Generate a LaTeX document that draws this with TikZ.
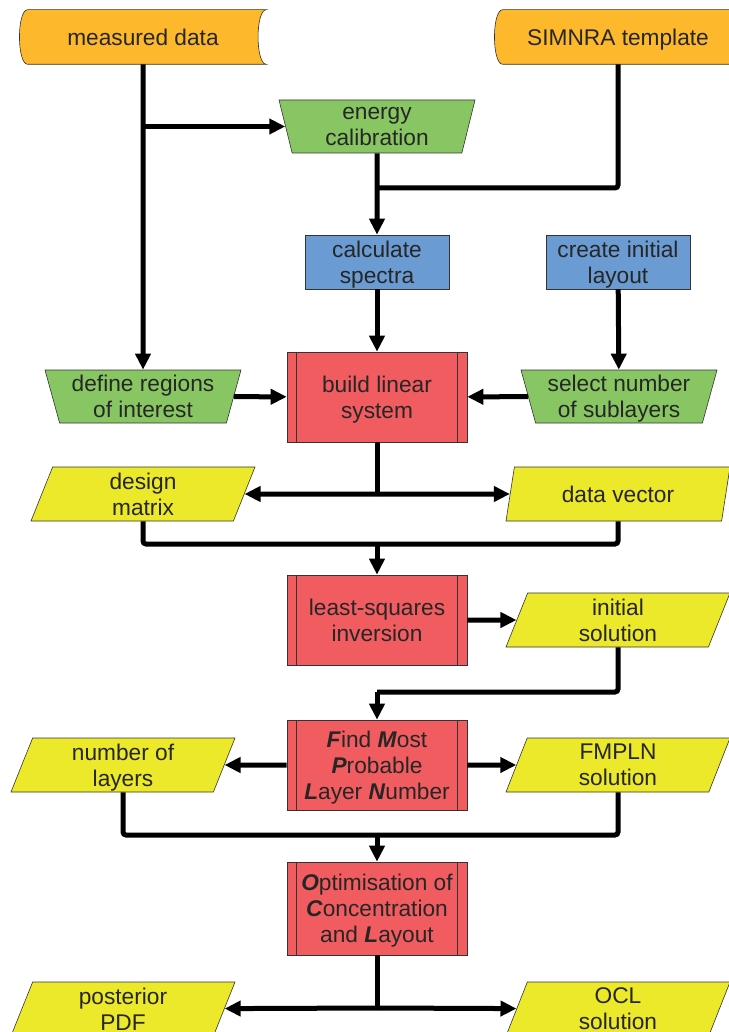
\documentclass[tikz,border=0pt]{standalone}
\usepackage{fontspec}
\setmainfont{Liberation Sans}
\usetikzlibrary{arrows.meta, shapes.geometric, backgrounds}
\definecolor{storeorange}{HTML}{FDB92B}
\definecolor{manualgreen}{HTML}{88C663}
\definecolor{procblue}{HTML}{6A9BD2}
\definecolor{predefred}{HTML}{F05C60}
\definecolor{ioyellow}{HTML}{ECE82A}
\newcommand{\initial}[1]{\textbf{\textit{#1}}}

\tikzset{
  box/.style={draw=black!80, line width=0.6pt, inner sep=0pt, align=center, text=black!85,
    text depth=0pt, font=\fontsize{22.7}{26}\selectfont},
  storebox/.style={box, draw=none, minimum width=246pt, minimum height=54pt},
  storeline/.style={draw=black!80, line width=0.6pt, fill=storeorange},
  manual/.style={box, trapezium, shape border rotate=180, trapezium left angle=71,
    trapezium right angle=71, trapezium stretches body, fill=manualgreen,
    minimum width=196pt, minimum height=53pt},
  procbox/.style={box, fill=procblue, minimum width=144pt, minimum height=54pt},
  predef/.style={box, fill=predefred, minimum width=180pt, minimum height=90pt,
    append after command={
      ([xshift=10pt]\tikzlastnode.north west) edge[predefline] ([xshift=10pt]\tikzlastnode.south west)
      ([xshift=-10pt]\tikzlastnode.north east) edge[predefline] ([xshift=-10pt]\tikzlastnode.south east)}},
  predefline/.style={draw=black!80, line width=0.6pt},
  io/.style={box, trapezium, trapezium left angle=63, trapezium right angle=117,
    trapezium stretches body, fill=ioyellow, minimum width=224pt, minimum height=54pt},
  line/.style={line width=5pt, rounded corners=3pt},
  flow/.style={line, -{Triangle[length=16pt, width=15pt]}}
}

\begin{document}
\begin{tikzpicture}[x=1pt, y=-1pt]
\useasboundingbox (0,0) rectangle (728,1032);

\node[storebox] (md) at (143,37) {measured data};
\node[storebox] (st) at (618,37) {SIMNRA template};
\node[manual] (ec) at (377,126.5) {energy\\calibration};
\foreach \n/\x/\t in {cs/377/{calculate\\spectra}, cil/618/{create initial\\layout}}
  \node[procbox] (\n) at (\x,262) {\t};
\node[manual] (drg) at (143,396.5) {define regions\\of interest};
\node[predef] (bls) at (377,397) {build linear\\system};
\node[manual] (snl) at (619,396.5) {select number\\of sublayers};
\node[io] (dm) at (143,494) {design\\matrix};
\node[io] (dv) at (618,494) {data vector};
\node[predef] (lsi) at (377,620) {least-squares\\inversion};
\node[io] (is) at (618,620) {initial\\solution};
\node[predef] (fm) at (377,765) {\initial{F}ind \initial{M}ost\\\initial{P}robable\\\initial{L}ayer \initial{N}umber};
\node[io] (nl) at (123,765) {number of\\layers};
\node[io] (fs) at (618,765) {FMPLN\\solution};
\node[predef, minimum height=93pt] (ocl) at (377,908.5) {\initial{O}ptimisation of\\\initial{C}oncentration\\and \initial{L}ayout};
\node[io] (pp) at (123,1009) {posterior\\PDF};
\node[io] (os) at (618,1009) {OCL\\solution};

\begin{scope}[on background layer]
\foreach \n in {md,st}
  \draw[storeline] ([xshift=8pt]\n.north west) -- (\n.north east)
    .. controls ([xshift=-11pt]\n.north east) and ([xshift=-11pt]\n.south east) .. (\n.south east)
    -- ([xshift=8pt]\n.south west)
    .. controls ([xshift=-3pt]\n.south west) and ([xshift=-3pt]\n.north west) .. cycle;
\end{scope}

\coordinate (j1) at (377,188);
\coordinate (j2) at (377,494);
\coordinate (j3) at (377,544);
\coordinate (j4) at (377,692);
\coordinate (j5) at (377,835);
\coordinate (j6) at (377,1008);

\draw[flow] (md) -- (drg);
\draw[flow] (md.south |- ec) -- (ec);
\draw[line] (st) |- (j1);
\draw[flow] (ec) -- (cs);
\draw[flow] (cs) -- (bls);
\draw[flow] (cil) -- (snl);
\draw[flow] (drg) -- (bls);
\draw[flow] (snl) -- (bls);
\draw[line] (bls) -- (j2);
\draw[flow] (j2) -- (dm);
\draw[flow] (j2) -- (dv);
\draw[line] (dm) |- (j3);
\draw[line] (dv) |- (j3);
\draw[flow] (j3) -- (lsi);
\draw[flow] (lsi) -- (is);
\draw[line] (is) |- (j4);
\draw[flow] (j4) -- (fm);
\draw[flow] (fm) -- (nl);
\draw[flow] (fm) -- (fs);
\draw[line] (nl) |- (j5);
\draw[line] (fs) |- (j5);
\draw[flow] (j5) -- (ocl);
\draw[line] (ocl) -- (j6);
\draw[flow] (j6) -- (pp);
\draw[flow] (j6) -- (os);
\end{tikzpicture}
\end{document}
